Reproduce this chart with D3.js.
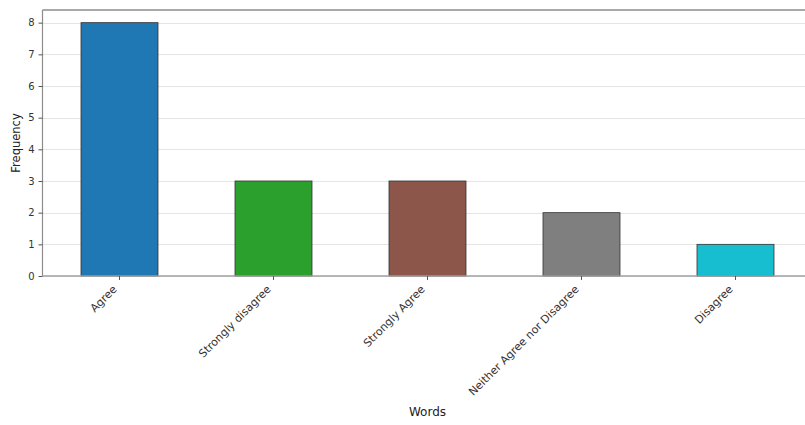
<!DOCTYPE html>
<html>
<head>
<meta charset="utf-8">
<script src="https://cdn.jsdelivr.net/npm/d3@7"></script>
<style>
  html, body { margin: 0; padding: 0; background: #fff; }
  svg { display: block; font-family: "DejaVu Sans", sans-serif; }
</style>
</head>
<body>
<svg id="chart" width="805" height="425"></svg>
<script>
const categories = ["Agree", "Strongly disagree", "Strongly Agree", "Neither Agree nor Disagree", "Disagree"];
const values = [8, 3, 3, 2, 1];
const barColors = ["#1f77b4", "#2ca02c", "#8c564b", "#7f7f7f", "#17becf"];
const yTicks = [0, 1, 2, 3, 4, 5, 6, 7, 8];
const xTitle = "Words";
const yTitle = "Frequency";

const svg = d3.select("#chart");
const pLeft = 42.5, pRight = 812.5, pTop = 10, pBottom = 276;

const x = d3.scaleBand().domain(categories).range([pLeft, pRight]).paddingInner(0.5).paddingOuter(0.25);
const y = d3.scaleLinear().domain([0, 8.4]).range([pBottom, pTop]);

// grid
svg.append("g").selectAll("line").data(yTicks).join("line")
  .attr("x1", pLeft).attr("x2", 805)
  .attr("y1", d => Math.round(y(d)) + 0.5).attr("y2", d => Math.round(y(d)) + 0.5)
  .attr("stroke", "#e5e5e5").attr("stroke-width", 1);

// bars
svg.append("g").selectAll("rect").data(categories).join("rect")
  .attr("x", d => x(d)).attr("width", x.bandwidth())
  .attr("y", (d, i) => y(values[i])).attr("height", (d, i) => y(0) - y(values[i]))
  .attr("fill", (d, i) => barColors[i])
  .attr("stroke", "#333").attr("stroke-width", 0.8);

// spines
svg.append("line").attr("x1", pLeft).attr("x2", 805).attr("y1", pTop).attr("y2", pTop)
  .attr("stroke", "#8c8c8c").attr("stroke-width", 1.5);
svg.append("line").attr("x1", pLeft).attr("x2", pLeft).attr("y1", pTop).attr("y2", pBottom)
  .attr("stroke", "#8c8c8c").attr("stroke-width", 1.2);
svg.append("line").attr("x1", pLeft).attr("x2", 805).attr("y1", pBottom).attr("y2", pBottom)
  .attr("stroke", "#a0a0a0").attr("stroke-width", 1.5);

// y axis
const yAxis = d3.axisLeft(y).tickValues(yTicks).tickSize(4).tickPadding(4).tickFormat(d3.format("d"));
const gy = svg.append("g").attr("transform", `translate(${pLeft},0)`).call(yAxis);
gy.select(".domain").remove();
gy.selectAll(".tick line").attr("stroke", "#555");
gy.selectAll(".tick text").attr("font-size", 10).attr("fill", "#333").attr("font-family", "DejaVu Sans, sans-serif");

// x axis
const xAxis = d3.axisBottom(x).tickSize(4).tickPadding(4);
const gx = svg.append("g").attr("transform", `translate(0,${pBottom})`).call(xAxis);
gx.select(".domain").remove();
gx.selectAll(".tick line").attr("stroke", "#555");
const fs = 11, c = Math.SQRT1_2;
gx.selectAll(".tick text")
  .attr("font-size", fs).attr("fill", "#333").attr("font-family", "DejaVu Sans, sans-serif")
  .attr("text-anchor", "end").attr("dy", null).attr("y", 0)
  .attr("transform", `translate(${-c * 0.24 * fs},${8 + c * 0.76 * fs}) rotate(-45)`);

// titles
svg.append("text").attr("x", (pLeft + pRight) / 2).attr("y", 416)
  .attr("text-anchor", "middle").attr("font-size", 12).attr("fill", "#222").text(xTitle);
svg.append("text").attr("transform", `translate(20,${(pTop + pBottom) / 2}) rotate(-90)`)
  .attr("text-anchor", "middle").attr("font-size", 11.5).attr("fill", "#222").text(yTitle);
</script>
</body>
</html>
